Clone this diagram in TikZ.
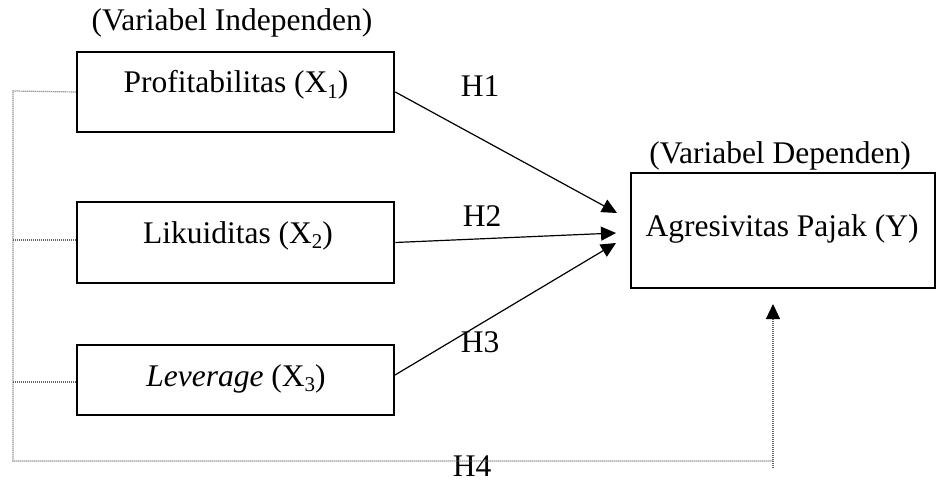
\documentclass[tikz,border=0pt]{standalone}
\usepackage{fontspec}
\setmainfont{Liberation Serif}
\usetikzlibrary{arrows.meta}
\newcommand{\mysub}[1]{\raisebox{-0.18em}{\fontsize{21}{24}\selectfont #1}}
\begin{document}
\begin{tikzpicture}[x=1pt,y=-1pt,
  box/.style={draw,line width=2.6pt,rectangle,inner sep=0pt},
  lbl/.style={anchor=base,inner sep=0pt,font=\fontsize{31.5}{36}\selectfont},
  arr/.style={line width=1.2pt,-{Triangle[length=15pt,width=14pt]}},
  dots/.style={line width=1.2pt,black!60,dash pattern=on 1pt off 1pt}]
\useasboundingbox (0,0) rectangle (952,481);
% boxes
\node[box,minimum width=317pt,minimum height=80pt] (b1) at (235.5,92) {};
\node[box,minimum width=317pt,minimum height=81pt] (b2) at (235.5,242.5) {};
\node[box,minimum width=317pt,minimum height=70pt] (b3) at (235.5,380) {};
\node[box,minimum width=304pt,minimum height=115pt] (by) at (783,230.5) {};
% texts
\node[lbl] (tind) at (232,31) {(Variabel Independen)};
\node[lbl] (t1) at (236,93) {Profitabilitas (X\mysub{1})};
\node[lbl] (t2) at (238,243) {Likuiditas (X\mysub{2})};
\node[lbl] (t3) at (236,386) {\textit{Leverage} (X\mysub{3})};
\node[lbl] (tdep) at (780,164) {(Variabel Dependen)};
\node[lbl] (ty) at (782,236) {Agresivitas Pajak (Y)};
\node[lbl] (h1) at (480,97) {H1};
\node[lbl] (h2) at (482,226) {H2};
\node[lbl] (h3) at (480,352) {H3};
\node[lbl] (h4) at (472,476) {H4};
% arrow ends
\coordinate (e1) at (617,213);
\coordinate (e2) at (616,233);
\coordinate (e3) at (616,243);
\coordinate (s3) at (395,375);
\coordinate (lt) at (13,91);
\coordinate (l2) at (13,240);
\coordinate (l3) at (13,382);
\coordinate (lb) at (13,461);
\coordinate (rb) at (773,461);
\coordinate (r0) at (773,468);
\coordinate (rt) at (773,304);
% connectors
\draw[arr] (b1.east) -- (e1);
\draw[arr] (b2.east) -- (e2);
\draw[arr] (s3) -- (e3);
\draw[dots] (b1.west) -- (lt) -- (lb) -- (rb);
\draw[dots] (b2.west |- l2) -- (l2);
\draw[dots] (b3.west |- l3) -- (l3);
\draw[dots,-{Triangle[length=15pt,width=14pt,black]}] (r0) -- (rt);
\end{tikzpicture}
\end{document}
